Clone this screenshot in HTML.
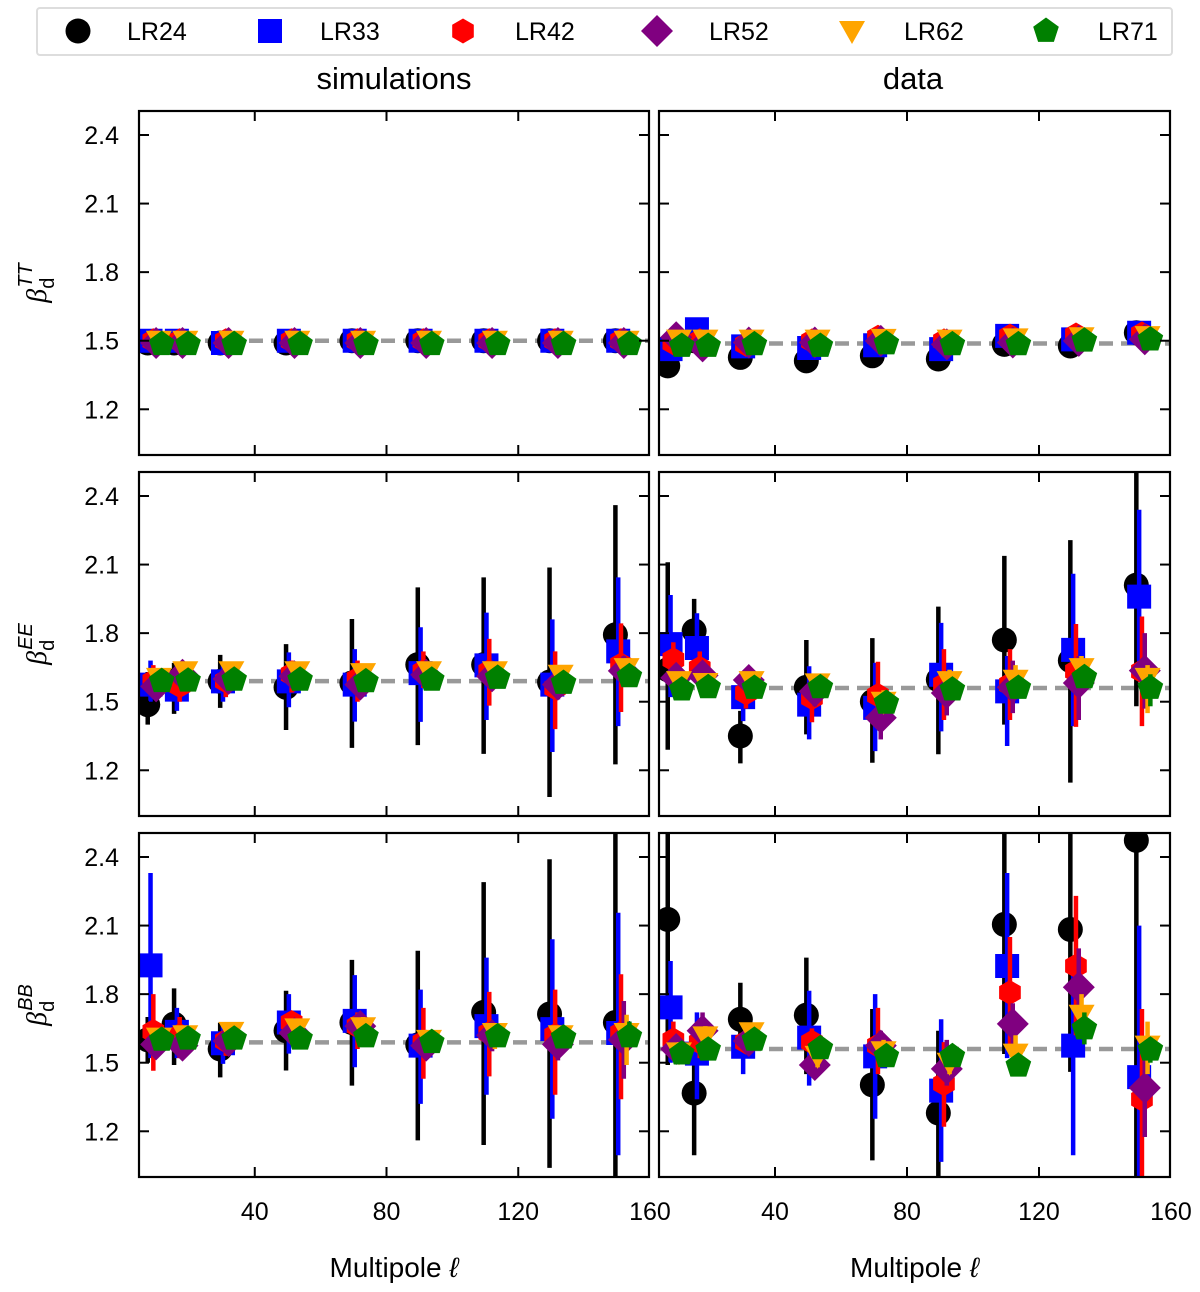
<!DOCTYPE html>
<html><head><meta charset="utf-8"><style>
html,body{margin:0;padding:0;background:#fff;}
svg{display:block;font-family:"Liberation Sans",sans-serif;}
</style></head><body>
<svg id="fig" width="1200" height="1292" viewBox="0 0 1200 1292" xmlns="http://www.w3.org/2000/svg">
<g id="legend">
<rect x="37" y="8" width="1135" height="47" fill="#fff" stroke="#ddd" stroke-width="2" rx="3"/>
</g>
<text x="394" y="89" font-size="31" text-anchor="middle">simulations</text>
<text x="913" y="89" font-size="31" text-anchor="middle">data</text>
<g id="plots"></g>
</svg>
<script>
const seriesNames = ["LR24","LR33","LR42","LR52","LR62","LR71"];
const seriesColors = ["#000000","#0000ff","#ff0000","#800080","#ffa500","#008000"];
const binCenters = [7.5,15.5,29.5,49.5,69.5,89.5,109.5,129.5,149.5];
const xTicks = [40,80,120,160];
const yTicks = [1.2,1.5,1.8,2.1,2.4];
const yTickLabels = ["1.2","1.5","1.8","2.1","2.4"];
const refLines = [1.5,1.488,1.59,1.56,1.589,1.56];

const ttSimVal = [
[1.49,1.49,1.49,1.49,1.50,1.50,1.50,1.50,1.50],
[1.50,1.50,1.49,1.50,1.50,1.50,1.50,1.50,1.50],
[1.50,1.50,1.50,1.50,1.50,1.50,1.50,1.50,1.50],
[1.49,1.49,1.49,1.49,1.49,1.49,1.49,1.49,1.49],
[1.50,1.50,1.50,1.50,1.50,1.50,1.50,1.50,1.50],
[1.485,1.485,1.485,1.485,1.485,1.485,1.485,1.485,1.485]];
const ttSimErr = [
[0.03,0.03,0.03,0.03,0.03,0.03,0.03,0.03,0.03],
[0.03,0.03,0.03,0.03,0.03,0.03,0.03,0.03,0.03],
[0.02,0.02,0.02,0.02,0.02,0.02,0.02,0.02,0.02],
[0.02,0.02,0.02,0.02,0.02,0.02,0.02,0.02,0.02],
[0.02,0.02,0.02,0.02,0.02,0.02,0.02,0.02,0.02],
[0.02,0.02,0.02,0.02,0.02,0.02,0.02,0.02,0.02]];
const ttDataVal = [
[1.39,1.50,1.427,1.412,1.434,1.42,1.484,1.477,1.535],
[1.463,1.55,1.475,1.468,1.48,1.463,1.521,1.506,1.535],
[1.49,1.50,1.484,1.499,1.515,1.499,1.52,1.525,1.53],
[1.515,1.475,1.492,1.492,1.499,1.484,1.492,1.499,1.506],
[1.505,1.505,1.505,1.505,1.508,1.505,1.51,1.515,1.52],
[1.477,1.477,1.484,1.477,1.488,1.484,1.484,1.50,1.505]];
const ttDataErr = ttSimErr;

const eeSimVal = [
[1.487,1.59,1.589,1.563,1.582,1.662,1.662,1.586,1.793],
[1.575,1.553,1.589,1.589,1.575,1.625,1.659,1.575,1.72],
[1.59,1.57,1.59,1.62,1.60,1.633,1.633,1.56,1.662],
[1.567,1.618,1.60,1.611,1.575,1.618,1.611,1.575,1.635],
[1.604,1.633,1.633,1.633,1.625,1.633,1.633,1.618,1.647],
[1.59,1.592,1.596,1.596,1.589,1.596,1.604,1.582,1.611]];
const eeSimLo = [
[1.40,1.447,1.473,1.376,1.298,1.31,1.272,1.083,1.226],
[1.50,1.46,1.50,1.476,1.413,1.412,1.42,1.28,1.393],
[1.52,1.50,1.52,1.54,1.50,1.56,1.483,1.38,1.455],
[1.52,1.56,1.56,1.56,1.53,1.57,1.55,1.51,1.57],
[1.56,1.59,1.60,1.59,1.59,1.59,1.59,1.56,1.59],
[1.56,1.56,1.57,1.57,1.56,1.57,1.57,1.55,1.57]];
const eeSimHi = [
[1.63,1.67,1.705,1.752,1.862,2.0,2.044,2.087,2.36],
[1.68,1.66,1.66,1.716,1.73,1.826,1.89,1.86,2.044],
[1.66,1.64,1.66,1.68,1.68,1.72,1.775,1.72,1.843],
[1.62,1.66,1.64,1.66,1.62,1.66,1.67,1.66,1.70],
[1.63,1.66,1.66,1.66,1.65,1.66,1.66,1.66,1.69],
[1.62,1.62,1.62,1.62,1.62,1.62,1.64,1.62,1.65]];

const eeDataVal = [
[1.64,1.81,1.35,1.563,1.50,1.596,1.77,1.68,2.01],
[1.752,1.735,1.52,1.487,1.473,1.618,1.545,1.727,1.96],
[1.684,1.647,1.538,1.517,1.528,1.575,1.575,1.633,1.633],
[1.604,1.615,1.595,1.545,1.43,1.538,1.563,1.582,1.636],
[1.59,1.582,1.59,1.58,1.50,1.59,1.596,1.647,1.604],
[1.553,1.563,1.56,1.563,1.495,1.553,1.56,1.607,1.56]];
const eeDataLo = [
[1.29,1.63,1.23,1.357,1.233,1.27,1.40,1.146,1.48],
[1.52,1.60,1.415,1.335,1.284,1.37,1.306,1.393,1.65],
[1.60,1.56,1.47,1.41,1.42,1.42,1.42,1.39,1.393],
[1.55,1.55,1.54,1.48,1.335,1.44,1.45,1.42,1.47],
[1.55,1.54,1.56,1.54,1.45,1.54,1.54,1.58,1.45],
[1.52,1.53,1.53,1.53,1.46,1.52,1.52,1.56,1.48]];
const eeDataHi = [
[2.11,1.95,1.46,1.77,1.778,1.916,2.138,2.207,2.55],
[1.967,1.887,1.60,1.655,1.67,1.845,1.70,2.06,2.34],
[1.76,1.72,1.60,1.62,1.675,1.73,1.73,1.84,1.873],
[1.66,1.67,1.64,1.60,1.50,1.62,1.68,1.70,1.80],
[1.62,1.62,1.62,1.62,1.55,1.64,1.66,1.70,1.66],
[1.59,1.60,1.59,1.59,1.53,1.59,1.60,1.65,1.62]];

const bbSimVal = [
[1.60,1.669,1.56,1.64,1.676,1.578,1.72,1.713,1.676],
[1.926,1.635,1.585,1.676,1.683,1.575,1.66,1.647,1.63],
[1.637,1.62,1.595,1.676,1.66,1.59,1.63,1.62,1.63],
[1.58,1.575,1.595,1.63,1.66,1.575,1.62,1.58,1.60],
[1.61,1.62,1.635,1.65,1.655,1.60,1.63,1.62,1.63],
[1.60,1.605,1.605,1.605,1.615,1.59,1.615,1.61,1.615]];
const bbSimLo = [
[1.50,1.49,1.436,1.466,1.40,1.16,1.14,1.04,0.95],
[1.52,1.52,1.495,1.54,1.48,1.32,1.36,1.255,1.095],
[1.465,1.52,1.53,1.60,1.56,1.43,1.44,1.36,1.34],
[1.52,1.52,1.55,1.58,1.60,1.52,1.55,1.51,1.43],
[1.57,1.58,1.60,1.61,1.60,1.57,1.56,1.57,1.49],
[1.57,1.57,1.58,1.58,1.59,1.56,1.58,1.58,1.57]];
const bbSimHi = [
[1.70,1.825,1.675,1.815,1.95,1.99,2.29,2.39,2.55],
[2.33,1.74,1.675,1.80,1.883,1.82,1.96,2.04,2.156],
[1.80,1.70,1.65,1.72,1.72,1.74,1.81,1.82,1.887],
[1.64,1.63,1.64,1.68,1.70,1.63,1.68,1.65,1.77],
[1.64,1.65,1.66,1.68,1.70,1.63,1.66,1.65,1.71],
[1.63,1.64,1.63,1.63,1.64,1.62,1.65,1.64,1.68]];

const bbDataVal = [
[2.127,1.367,1.69,1.708,1.403,1.28,2.105,2.083,2.473],
[1.742,1.54,1.57,1.61,1.528,1.378,1.923,1.575,1.437],
[1.60,1.59,1.59,1.59,1.575,1.408,1.807,1.923,1.34],
[1.56,1.64,1.595,1.49,1.575,1.473,1.67,1.83,1.39],
[1.545,1.615,1.633,1.53,1.55,1.50,1.54,1.71,1.575],
[1.54,1.557,1.60,1.563,1.528,1.528,1.487,1.65,1.557]];
const bbDataLo = [
[1.49,1.095,1.57,1.45,1.073,1.0,1.538,1.46,1.0],
[1.50,1.34,1.45,1.40,1.255,1.066,1.52,1.095,1.0],
[1.53,1.52,1.54,1.52,1.45,1.22,1.575,1.62,1.0],
[1.52,1.57,1.55,1.44,1.50,1.40,1.58,1.62,1.175],
[1.50,1.57,1.60,1.48,1.50,1.45,1.46,1.62,1.45],
[1.51,1.52,1.57,1.53,1.49,1.49,1.45,1.58,1.50]];
const bbDataHi = [
[2.55,1.545,1.85,1.96,1.735,1.64,2.55,2.55,2.55],
[1.945,1.72,1.63,1.815,1.80,1.69,2.33,1.92,2.10],
[1.68,1.66,1.64,1.65,1.74,1.59,2.05,2.23,1.735],
[1.60,1.72,1.64,1.54,1.64,1.60,1.76,2.00,1.56],
[1.59,1.66,1.66,1.58,1.60,1.55,1.62,1.80,1.68],
[1.57,1.59,1.63,1.60,1.56,1.56,1.52,1.72,1.61]];

const NS="http://www.w3.org/2000/svg";
const svg=document.getElementById('fig');
const plots=document.getElementById('plots');
function mk(tag,attrs,parent){const e=document.createElementNS(NS,tag);for(const k in attrs)e.setAttribute(k,attrs[k]);(parent||plots).appendChild(e);return e;}

const colX=[139,659], colW=[510,511];
const rowY=[111,472,833], rowH=344;
const XMIN=4.85, XMAX=159.7, YMIN=1.0, YMAX=2.505;
function xs(c,l){return colX[c]+(l-XMIN)/(XMAX-XMIN)*colW[c];}
function ys(r,v){return rowY[r]+rowH-(v-YMIN)/(YMAX-YMIN)*rowH;}

function markerPath(s,cx,cy){
  let pts=[];
  if(s===1){const h=12;return `M${cx-h},${cy-h}H${cx+h}V${cy+h}H${cx-h}Z`;}
  if(s===2){for(let i=0;i<6;i++){const a=Math.PI/2+i*Math.PI/3;pts.push([cx+12.5*Math.cos(a),cy-12.5*Math.sin(a)]);}}
  if(s===3){pts=[[cx,cy-16],[cx+16,cy],[cx,cy+16],[cx-16,cy]];}
  if(s===4){pts=[[cx-13,cy-10],[cx+13,cy-10],[cx,cy+13]];}
  if(s===5){for(let i=0;i<5;i++){const a=Math.PI/2+i*2*Math.PI/5;pts.push([cx+13.5*Math.cos(a),cy-13.5*Math.sin(a)]);}}
  return 'M'+pts.map(p=>p[0].toFixed(1)+','+p[1].toFixed(1)).join('L')+'Z';
}
function drawMarker(s,cx,cy,g){
  let m;
  if(s===0){m=mk('circle',{cx:cx,cy:cy,r:12.5,fill:seriesColors[0]},g);}
  else{m=mk('path',{d:markerPath(s,cx,cy),fill:seriesColors[s]},g);}
  return m;
}

const defs=mk('defs',{},svg);
for(let r=0;r<3;r++)for(let c=0;c<2;c++){
  const cp=mk('clipPath',{id:`clip${r}${c}`},defs);
  mk('rect',{x:colX[c],y:rowY[r],width:colW[c],height:rowH},cp);
}

const panelNames=["tt-simulations","tt-data","ee-simulations","ee-data","bb-simulations","bb-data"];
const panelVals=[ttSimVal,ttDataVal,eeSimVal,eeDataVal,bbSimVal,bbDataVal];
const panelLo=[null,null,eeSimLo,eeDataLo,bbSimLo,bbDataLo];
const panelHi=[null,null,eeSimHi,eeDataHi,bbSimHi,bbDataHi];
const panelErr=[ttSimErr,ttDataErr,null,null,null,null];

for(let p=0;p<6;p++){
  const r=Math.floor(p/2), c=p%2;
  const g=mk('g',{});
  
  
  const inner=mk('g',{'clip-path':`url(#clip${r}${c})`},g);
  const ref=mk('line',{x1:colX[c],x2:colX[c]+colW[c],y1:ys(r,refLines[p]),y2:ys(r,refLines[p]),stroke:'#999','stroke-width':4.5,'stroke-dasharray':'14 8'},inner);
  
  
  const V=panelVals[p];
  for(let s=0;s<6;s++){
    const sg=mk('g',{},inner);
    
    
    for(let i=0;i<binCenters.length;i++){
      const l=binCenters[i]+s*0.85;
      const x=xs(c,l);
      const v=V[s][i];
      const lo=panelLo[p]?panelLo[p][s][i]:v-panelErr[p][s][i];
      const hi=panelHi[p]?panelHi[p][s][i]:v+panelErr[p][s][i];
      const eb=mk('line',{x1:x,x2:x,y1:ys(r,lo),y2:ys(r,hi),stroke:seriesColors[s],'stroke-width':4.5},sg);
      
      
      const m=drawMarker(s,x,ys(r,v),sg);
      
      
    }
  }
  const fr=mk('rect',{x:colX[c],y:rowY[r],width:colW[c],height:rowH,fill:'none',stroke:'#000','stroke-width':2.2},g);
  
  
  for(const t of xTicks){
    const x=xs(c,t);
    if(x>colX[c]+colW[c]-3)continue;
    mk('line',{x1:x,x2:x,y1:rowY[r],y2:rowY[r]+10,stroke:'#000','stroke-width':2},g);
    mk('line',{x1:x,x2:x,y1:rowY[r]+rowH,y2:rowY[r]+rowH-10,stroke:'#000','stroke-width':2},g);
  }
  for(let k=0;k<yTicks.length;k++){
    const y=ys(r,yTicks[k]);
    mk('line',{x1:colX[c],x2:colX[c]+10,y1:y,y2:y,stroke:'#000','stroke-width':2},g);
    mk('line',{x1:colX[c]+colW[c],x2:colX[c]+colW[c]-10,y1:y,y2:y,stroke:'#000','stroke-width':2},g);
    if(c===0){
      const t=mk('text',{x:119,y:y+9,'font-size':25,'text-anchor':'end'},g);
      t.textContent=yTickLabels[k];
      
      
    }
  }
  if(r===2){
    for(const t of xTicks){
      const tl=mk('text',{x:xs(c,t),y:1220,'font-size':25,'text-anchor':'middle'},g);
      tl.textContent=String(t);
      
      
    }
    const xt=mk('text',{x:colX[c]+colW[c]/2,y:1277,'font-size':28,'text-anchor':'middle'},g);
    xt.innerHTML='Multipole <tspan font-style="italic">ℓ</tspan>';
    
    
  }
}
const yt=["TT","EE","BB"];
for(let r=0;r<3;r++){
  const cy=rowY[r]+rowH/2;
  const t=mk('text',{x:0,y:0,'font-size':28,transform:`translate(46,${cy}) rotate(-90)`,'text-anchor':'middle'});
  t.innerHTML=`<tspan font-style="italic" font-family="Liberation Serif">β</tspan><tspan font-size="20" dy="8">d</tspan><tspan font-size="20" font-style="italic" dx="-10" dy="-22">${yt[r]}</tspan>`;
  
  
}
const legG=document.getElementById('legend');
const legMX=[78,270,463,657,852,1046], legTX=[127,320,515,709,904,1098];
for(let s=0;s<6;s++){
  const eg=mk('g',{},legG);
  
  
  drawMarker(s,legMX[s],31,eg);
  const tt=mk('text',{x:legTX[s],y:40,'font-size':25},eg);
  tt.textContent=seriesNames[s];
}
</script>
</body></html>
